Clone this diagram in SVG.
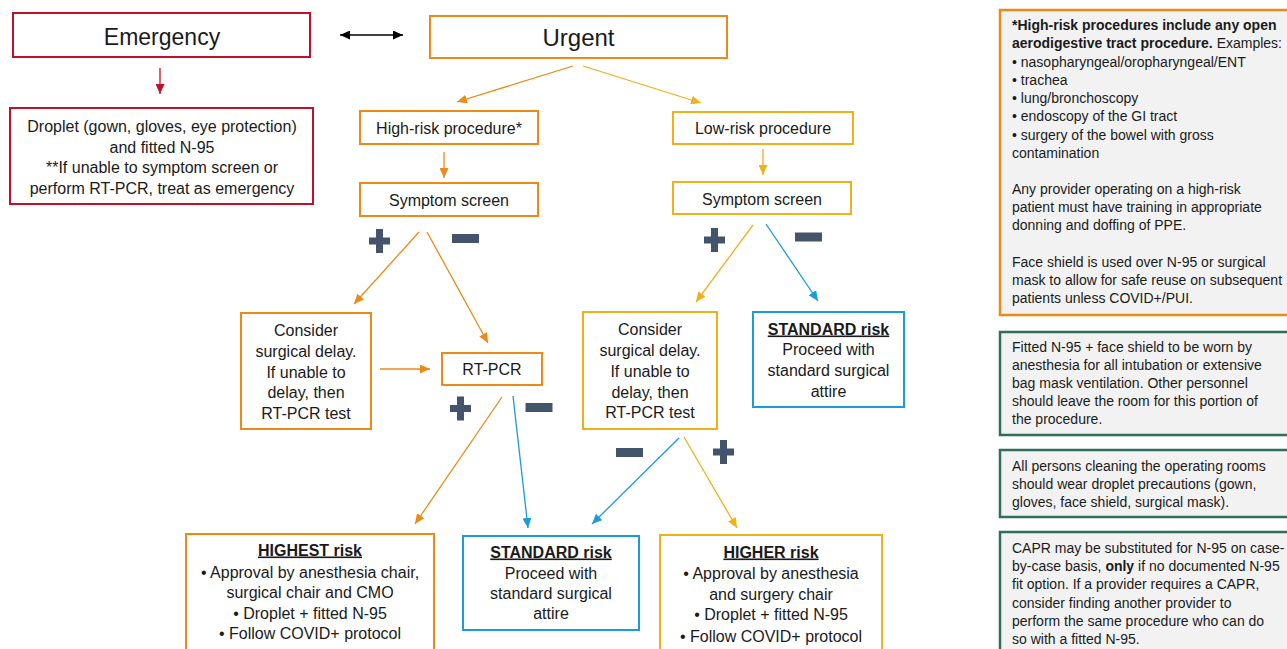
<svg xmlns="http://www.w3.org/2000/svg" width="1287" height="649" viewBox="0 0 1287 649">
<style>
text{font-family:"Liberation Sans",Arial,sans-serif;fill:#1a1a1a;}
.c{text-anchor:middle;font-size:16px;}
.big{text-anchor:middle;font-size:24px;}
.p{font-size:14px;}
.b{font-weight:bold;}
.u{font-weight:bold;text-decoration:underline;}
.box{fill:#fff;stroke-width:2;}
.red{stroke:#C0102A;}
.org{stroke:#EC8A17;}
.yel{stroke:#EFB11A;}
.blu{stroke:#1B9BD7;}
.pan{fill:#F2F2F2;stroke-width:2.5;}
.grn{stroke:#2F6E5D;}
.ln{fill:none;stroke-width:1.3;}
.sign{fill:#44546A;}
</style>
<defs>
<marker id="aO" markerUnits="userSpaceOnUse" markerWidth="10" markerHeight="9" viewBox="0 0 10 9" refX="10" refY="4.5" orient="auto"><path d="M0,0 L10,4.5 L0,9 z" fill="#EC8A17"/></marker>
<marker id="aY" markerUnits="userSpaceOnUse" markerWidth="10" markerHeight="9" viewBox="0 0 10 9" refX="10" refY="4.5" orient="auto"><path d="M0,0 L10,4.5 L0,9 z" fill="#EFB11A"/></marker>
<marker id="aB" markerUnits="userSpaceOnUse" markerWidth="10" markerHeight="9" viewBox="0 0 10 9" refX="10" refY="4.5" orient="auto"><path d="M0,0 L10,4.5 L0,9 z" fill="#1B9BD7"/></marker>
<marker id="aR" markerUnits="userSpaceOnUse" markerWidth="10" markerHeight="9" viewBox="0 0 10 9" refX="10" refY="4.5" orient="auto"><path d="M0,0 L10,4.5 L0,9 z" fill="#C0102A"/></marker>
<marker id="aK" markerUnits="userSpaceOnUse" markerWidth="10" markerHeight="9" viewBox="0 0 10 9" refX="10" refY="4.5" orient="auto-start-reverse"><path d="M0,0 L10,4.5 L0,9 z" fill="#000"/></marker>
<path id="plus" d="M-3.5,-12 H3.5 V-3.5 H10.5 V3.5 H3.5 V12 H-3.5 V3.5 H-10.5 V-3.5 H-3.5 z"/>
<rect id="minus" x="-13.5" y="-4.5" width="27" height="9"/>
</defs>

<g id="connectors">
<line class="ln" x1="340" y1="35" x2="403" y2="35" stroke="#000" marker-start="url(#aK)" marker-end="url(#aK)"/>
<line class="ln" x1="160" y1="68" x2="160" y2="94" stroke="#C0102A" marker-end="url(#aR)"/>
<line class="ln" x1="573" y1="66" x2="457" y2="102" stroke="#EC8A17" marker-end="url(#aO)"/>
<line class="ln" x1="583" y1="66" x2="701" y2="103" stroke="#EFB11A" marker-end="url(#aY)"/>
<line class="ln" x1="444" y1="152" x2="444" y2="178" stroke="#EC8A17" marker-end="url(#aO)"/>
<line class="ln" x1="763" y1="149" x2="763" y2="175" stroke="#EFB11A" marker-end="url(#aY)"/>
<line class="ln" x1="419" y1="232" x2="354" y2="304" stroke="#EC8A17" marker-end="url(#aO)"/>
<line class="ln" x1="427" y1="232" x2="488" y2="343" stroke="#EC8A17" marker-end="url(#aO)"/>
<line class="ln" x1="380" y1="369" x2="430" y2="369" stroke="#EC8A17" marker-end="url(#aO)"/>
<line class="ln" x1="502" y1="397" x2="415" y2="524" stroke="#EC8A17" marker-end="url(#aO)"/>
<line class="ln" x1="513" y1="396" x2="528" y2="528" stroke="#1B9BD7" marker-end="url(#aB)"/>
<line class="ln" x1="753" y1="225" x2="696" y2="302" stroke="#EFB11A" marker-end="url(#aY)"/>
<line class="ln" x1="766" y1="224" x2="818" y2="301" stroke="#1B9BD7" marker-end="url(#aB)"/>
<line class="ln" x1="679" y1="438" x2="592" y2="524" stroke="#1B9BD7" marker-end="url(#aB)"/>
<line class="ln" x1="684" y1="437" x2="737" y2="528" stroke="#EFB11A" marker-end="url(#aY)"/>
</g>

<g id="signs" class="sign">
<use href="#plus" x="379.5" y="241"/>
<use href="#minus" x="465.5" y="238.5"/>
<use href="#plus" x="460.5" y="408.5"/>
<use href="#minus" x="539" y="407.5"/>
<use href="#plus" x="714.5" y="240"/>
<use href="#minus" x="808.5" y="237"/>
<use href="#plus" x="723.5" y="452"/>
<use href="#minus" x="629.5" y="452.5"/>
</g>

<g id="emergency">
<rect class="box red" x="13" y="13" width="297" height="44"/>
<text class="big" x="162" y="45" style="font-size:23px">Emergency</text>
</g>
<g id="droplet">
<rect class="box red" x="10" y="108" width="303" height="96"/>
<text class="c" x="162" y="131.5">Droplet (gown, gloves, eye protection)</text>
<text class="c" x="162" y="152.5">and fitted N-95</text>
<text class="c" x="162" y="172.5">**If unable to symptom screen or</text>
<text class="c" x="162" y="193.5">perform RT-PCR, treat as emergency</text>
</g>
<g id="urgent">
<rect class="box org" x="430" y="16" width="297" height="42"/>
<text class="big" x="578.5" y="46">Urgent</text>
</g>
<g id="high-risk">
<rect class="box org" x="360" y="111" width="178" height="33"/>
<text class="c" x="449" y="133.5">High-risk procedure*</text>
</g>
<g id="low-risk">
<rect class="box yel" x="673" y="112" width="180" height="32"/>
<text class="c" x="763" y="133.5">Low-risk procedure</text>
</g>
<g id="symptom-left">
<rect class="box org" x="360" y="183" width="178" height="33"/>
<text class="c" x="449" y="205.5">Symptom screen</text>
</g>
<g id="symptom-right">
<rect class="box yel" x="673" y="182" width="178" height="32"/>
<text class="c" x="762" y="204.5">Symptom screen</text>
</g>
<g id="consider-left">
<rect class="box org" x="241" y="313" width="130" height="116"/>
<text class="c" x="306" y="335.5">Consider</text>
<text class="c" x="306" y="356.5">surgical delay.</text>
<text class="c" x="306" y="377.5">If unable to</text>
<text class="c" x="306" y="397.5">delay, then</text>
<text class="c" x="306" y="418.5">RT-PCR test</text>
</g>
<g id="rt-pcr">
<rect class="box org" x="442" y="353" width="100" height="32"/>
<text class="c" x="492" y="374.5">RT-PCR</text>
</g>
<g id="consider-right">
<rect class="box yel" x="583" y="312" width="134" height="117"/>
<text class="c" x="650" y="334.5">Consider</text>
<text class="c" x="650" y="355.5">surgical delay.</text>
<text class="c" x="650" y="376.5">If unable to</text>
<text class="c" x="650" y="397.5">delay, then</text>
<text class="c" x="650" y="417.5">RT-PCR test</text>
</g>
<g id="standard-right">
<rect class="box blu" x="753" y="312" width="151" height="95"/>
<text class="c u" x="828.5" y="334.5">STANDARD risk</text>
<text class="c" x="828.5" y="354.5">Proceed with</text>
<text class="c" x="828.5" y="375.5">standard surgical</text>
<text class="c" x="828.5" y="396.5">attire</text>
</g>
<g id="highest">
<rect class="box org" x="186" y="534" width="248" height="116"/>
<text class="c u" x="310" y="555.5">HIGHEST risk</text>
<text class="c" x="310" y="577.5">• Approval by anesthesia chair,</text>
<text class="c" x="310" y="597.5">surgical chair and CMO</text>
<text class="c" x="310" y="618.5">• Droplet + fitted N-95</text>
<text class="c" x="310" y="638.5">• Follow COVID+ protocol</text>
</g>
<g id="standard-bottom">
<rect class="box blu" x="463" y="536" width="176" height="94"/>
<text class="c u" x="551" y="557.5">STANDARD risk</text>
<text class="c" x="551" y="578.5">Proceed with</text>
<text class="c" x="551" y="598.5">standard surgical</text>
<text class="c" x="551" y="618.5">attire</text>
</g>
<g id="higher">
<rect class="box yel" x="660" y="535" width="222" height="116"/>
<text class="c u" x="771" y="557.5">HIGHER risk</text>
<text class="c" x="771" y="578.5">• Approval by anesthesia</text>
<text class="c" x="771" y="599.5">and surgery chair</text>
<text class="c" x="771" y="619.5">• Droplet + fitted N-95</text>
<text class="c" x="771" y="641.5">• Follow COVID+ protocol</text>
</g>

<g id="note-high-risk">
<rect class="pan org" x="1000" y="10" width="300" height="305"/>
<text class="p" x="1012" y="30"><tspan class="b">*High-risk procedures include any open</tspan></text>
<text class="p" x="1012" y="48"><tspan class="b">aerodigestive tract procedure.</tspan> Examples:</text>
<text class="p" x="1012" y="67">• nasopharyngeal/oropharyngeal/ENT</text>
<text class="p" x="1012" y="85">• trachea</text>
<text class="p" x="1012" y="103">• lung/bronchoscopy</text>
<text class="p" x="1012" y="121">• endoscopy of the GI tract</text>
<text class="p" x="1012" y="140">• surgery of the bowel with gross</text>
<text class="p" x="1012" y="158">contamination</text>
<text class="p" x="1012" y="194">Any provider operating on a high-risk</text>
<text class="p" x="1012" y="212">patient must have training in appropriate</text>
<text class="p" x="1012" y="230">donning and doffing of PPE.</text>
<text class="p" x="1012" y="267">Face shield is used over N-95 or surgical</text>
<text class="p" x="1012" y="285">mask to allow for safe reuse on subsequent</text>
<text class="p" x="1012" y="303">patients unless COVID+/PUI.</text>
</g>
<g id="note-n95">
<rect class="pan grn" x="1000" y="332" width="300" height="103"/>
<text class="p" x="1012" y="352">Fitted N-95 + face shield to be worn by</text>
<text class="p" x="1012" y="370">anesthesia for all intubation or extensive</text>
<text class="p" x="1012" y="388">bag mask ventilation. Other personnel</text>
<text class="p" x="1012" y="406">should leave the room for this portion of</text>
<text class="p" x="1012" y="424">the procedure.</text>
</g>
<g id="note-cleaning">
<rect class="pan grn" x="1000" y="450" width="300" height="67"/>
<text class="p" x="1012" y="471">All persons cleaning the operating rooms</text>
<text class="p" x="1012" y="489">should wear droplet precautions (gown,</text>
<text class="p" x="1012" y="507">gloves, face shield, surgical mask).</text>
</g>
<g id="note-capr">
<rect class="pan grn" x="1000" y="532" width="300" height="130"/>
<text class="p" x="1012" y="553">CAPR may be substituted for N-95 on case-</text>
<text class="p" x="1012" y="571">by-case basis, <tspan class="b">only</tspan> if no documented N-95</text>
<text class="p" x="1012" y="589">fit option. If a provider requires a CAPR,</text>
<text class="p" x="1012" y="608">consider finding another provider to</text>
<text class="p" x="1012" y="626">perform the same procedure who can do</text>
<text class="p" x="1012" y="644">so with a fitted N-95.</text>
</g>
</svg>
